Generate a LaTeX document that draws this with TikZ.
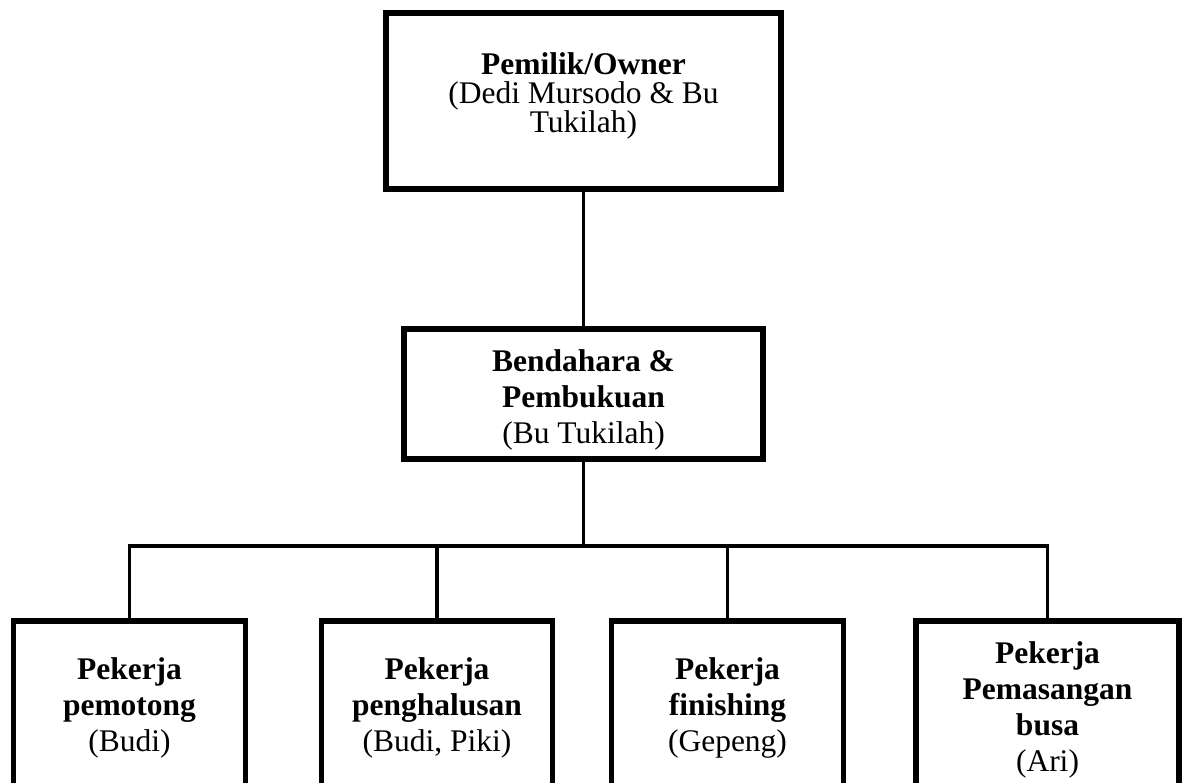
\documentclass[tikz,border=0pt]{standalone}
\usepackage{fontspec}
\setmainfont{Liberation Serif}
\begin{document}
\begin{tikzpicture}[x=1pt,y=-1pt,
  box/.style={draw, line width=5.5pt, line join=miter, rectangle, inner sep=0pt},
  conn/.style={line width=3.5pt},
  lbl/.style={align=center, inner sep=0pt, font=\fontsize{31.5}{36}\selectfont}]
\useasboundingbox (0,0) rectangle (1189,783);
\clip (0,0) rectangle (1189,783);
% boxes
\node[box, minimum width=395pt, minimum height=176pt] (own) at (583.5,101) {};
\node[box, minimum width=359pt, minimum height=130pt] (mid) at (583.5,394) {};
\node[box, minimum width=232pt, minimum height=176pt] (w1) at (129.5,709) {};
\node[box, minimum width=231pt, minimum height=176pt] (w2) at (437,709) {};
\node[box, minimum width=232pt, minimum height=176pt] (w3) at (727.5,709) {};
\node[box, minimum width=263pt, minimum height=176pt] (w4) at (1047.5,709) {};
% labels
\node[lbl, font=\fontsize{31.5}{29}\selectfont] (ownt) at (583.5,96.4) {\textbf{Pemilik/Owner}\\(Dedi Mursodo \& Bu\\Tukilah)};
\node[lbl] (midt) at (583.5,399.7) {\textbf{Bendahara \&}\\\textbf{Pembukuan}\\(Bu Tukilah)};
\node[lbl] (w1t) at (129.5,708) {\textbf{Pekerja}\\\textbf{pemotong}\\(Budi)};
\node[lbl] (w2t) at (437,708) {\textbf{Pekerja}\\\textbf{penghalusan}\\(Budi, Piki)};
\node[lbl] (w3t) at (727.5,708) {\textbf{Pekerja}\\\textbf{finishing}\\(Gepeng)};
\node[lbl] (w4t) at (1047.5,709.7) {\textbf{Pekerja}\\\textbf{Pemasangan}\\\textbf{busa}\\(Ari)};
% connectors
\coordinate (bus) at (583.5,546);
\draw[conn] (own.south) -- (mid.north);
\draw[conn] (mid.south) -- (bus);
\draw[conn] (w1.north) |- (bus) -| (w4.north);
\draw[conn] (w2.north) -- (w2.north |- bus);
\draw[conn] (w3.north) -- (w3.north |- bus);
\end{tikzpicture}
\end{document}
